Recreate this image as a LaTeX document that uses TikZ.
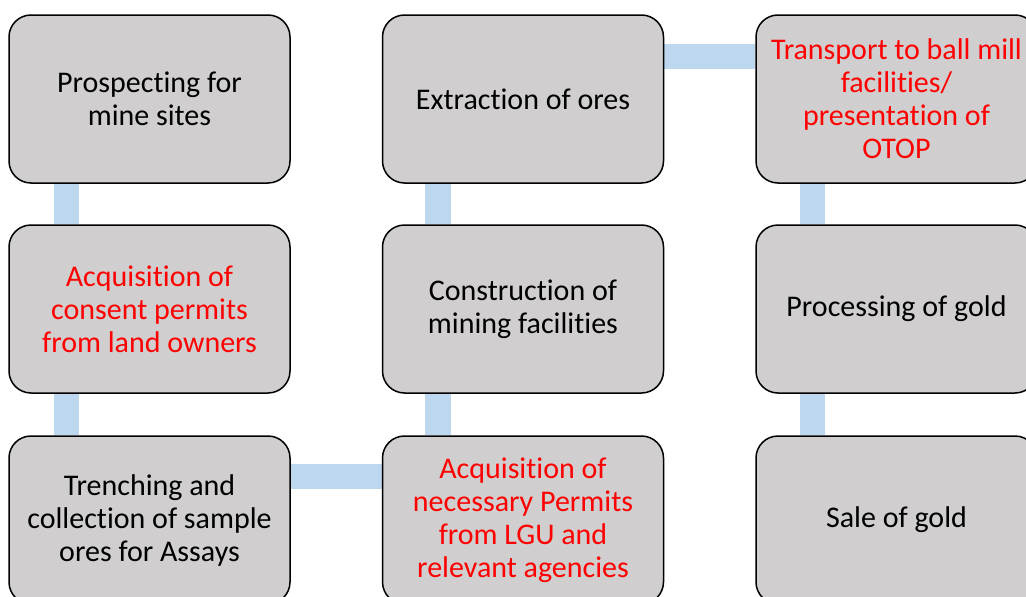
\documentclass[tikz,border=0pt]{standalone}
\usepackage{fontspec}
\setmainfont{Carlito}[Ligatures=NoCommon]
\usetikzlibrary{backgrounds}
\definecolor{boxgray}{HTML}{D0CECE}
\definecolor{connblue}{HTML}{BDD7EE}
\definecolor{redtxt}{HTML}{FF0000}
\tikzset{
  stepbox/.style={draw=black, line width=1.5pt, fill=boxgray, rounded corners=22pt,
    minimum width=281pt, minimum height=168pt, inner sep=0pt, align=center,
    font=\fontsize{30}{33}\selectfont, text=black},
  redbox/.style={stepbox, text=redtxt},
  conn/.style={draw=connblue, line width=25.5pt}
}
\begin{document}
\begin{tikzpicture}[x=1pt,y=-1pt]
\useasboundingbox (0,0) rectangle (1026,597);
\node[stepbox] (a1) at (149.5,99) {Prospecting for\\mine sites};
\node[redbox]  (a2) at (149.5,309) {Acquisition of\\consent permits\\from land owners};
\node[stepbox] (a3) at (149.5,520) {Trenching and\\collection of sample\\ores for Assays};
\node[redbox]  (b3) at (523,520) {Acquisition of\\necessary Permits\\from LGU and\\relevant agencies};
\node[stepbox] (b2) at (523,309) {Construction of\\mining facilities};
\node[stepbox] (b1) at (523,99) {Extraction of ores};
\node[redbox]  (c1) at (896.5,99) {Transport to ball mill\\facilities/\\presentation of\\OTOP};
\node[stepbox] (c2) at (896.5,309) {Processing of gold};
\node[stepbox] (c3) at (896.5,520) {Sale of gold};
\begin{scope}[on background layer]
\draw[conn] ([xshift=58pt]a1.south west) -- ([xshift=58pt]a2.north west);
\draw[conn] ([xshift=58pt]a2.south west) -- ([xshift=58pt]a3.north west);
\draw[conn] ([yshift=-41pt]a3.north east) -- ([yshift=-41pt]b3.north west);
\draw[conn] ([xshift=56pt]b3.north west) -- ([xshift=56pt]b2.south west);
\draw[conn] ([xshift=56pt]b2.north west) -- ([xshift=56pt]b1.south west);
\draw[conn] ([yshift=-42pt]b1.north east) -- ([yshift=-42pt]c1.north west);
\draw[conn] ([xshift=57pt]c1.south west) -- ([xshift=57pt]c2.north west);
\draw[conn] ([xshift=57pt]c2.south west) -- ([xshift=57pt]c3.north west);
\end{scope}
\end{tikzpicture}
\end{document}
